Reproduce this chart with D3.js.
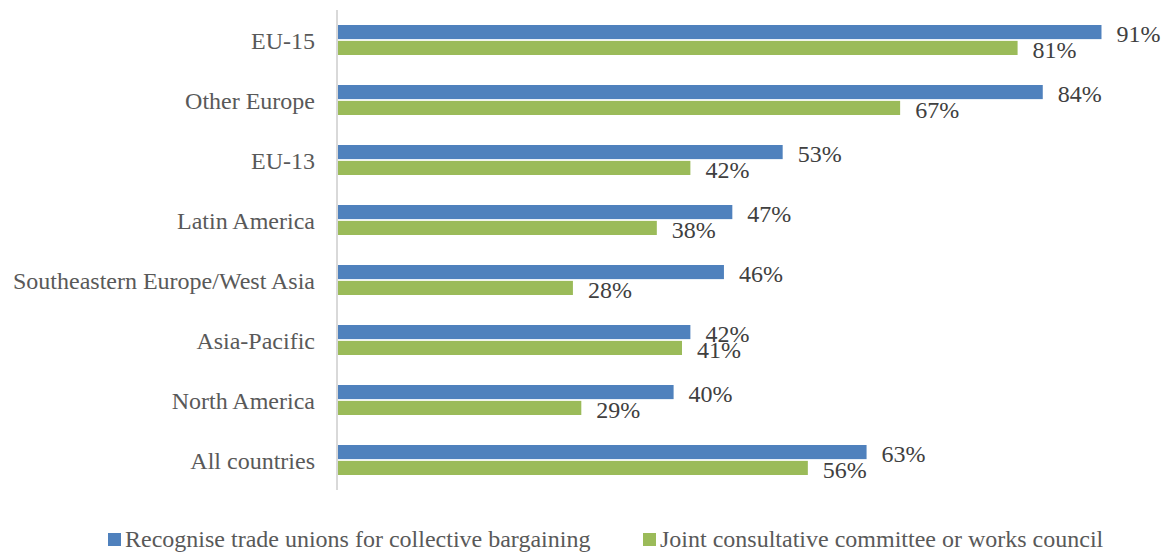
<!DOCTYPE html>
<html>
<head>
<meta charset="utf-8">
<script src="https://cdn.jsdelivr.net/npm/d3@7"></script>
<style>
  body { margin: 0; background: #fff; }
  svg text { font-family: "Liberation Serif", "Times New Roman", serif; font-size: 24px; }
</style>
</head>
<body>
<div id="chart"></div>
<script>
const categories = ["EU-15", "Other Europe", "EU-13", "Latin America",
  "Southeastern Europe/West Asia", "Asia-Pacific", "North America", "All countries"];
const seriesNames = ["Recognise trade unions for collective bargaining",
  "Joint consultative committee or works council"];
const unions = [91, 84, 53, 47, 46, 42, 40, 63];
const councils = [81, 67, 42, 38, 28, 41, 29, 56];
const colors = ["#4f81bd", "#9bbb59"];

const width = 1166, height = 552;
const margin = {top: 10, left: 338, bottom: 62};

const svg = d3.select("#chart").append("svg")
  .attr("width", width)
  .attr("height", height);

const rows = categories.map((c, i) => ({cat: c, vals: [unions[i], councils[i]]}));

const y0 = d3.scaleBand()
  .domain(categories)
  .range([margin.top, height - margin.bottom])
  .paddingInner(0.5)
  .paddingOuter(0.25);

const y1 = d3.scaleBand()
  .domain([0, 1])
  .range([0, y0.bandwidth()])
  .paddingInner(0.11);

const x = d3.scaleLinear()
  .domain([0, 100])
  .range([margin.left, margin.left + 839]);

// category labels
svg.append("g").selectAll("text")
  .data(categories)
  .join("text")
  .attr("x", margin.left - 23)
  .attr("y", d => y0(d) + y0.bandwidth() / 2 + 8.5)
  .attr("text-anchor", "end")
  .attr("fill", "#595959")
  .text(d => d);

const groups = svg.append("g").selectAll("g")
  .data(rows)
  .join("g")
  .attr("transform", d => `translate(0,${y0(d.cat)})`);

groups.selectAll("rect")
  .data(d => d.vals)
  .join("rect")
  .attr("x", x(0))
  .attr("y", (d, i) => y1(i))
  .attr("width", d => x(d) - x(0))
  .attr("height", y1.bandwidth())
  .attr("fill", (d, i) => colors[i]);

groups.selectAll("text")
  .data(d => d.vals)
  .join("text")
  .attr("x", d => x(d) + 15)
  .attr("y", (d, i) => y1(i) + y1.bandwidth() / 2 + 10)
  .attr("fill", "#404040")
  .text(d => d + "%");

// vertical axis line
svg.append("line")
  .attr("x1", margin.left - 1).attr("x2", margin.left - 1)
  .attr("y1", y0.range()[0]).attr("y2", y0.range()[1])
  .attr("stroke", "#d9d9d9")
  .attr("stroke-width", 2);

// legend
const legendX = [108, 643];
const legend = svg.append("g").selectAll("g")
  .data(seriesNames)
  .join("g")
  .attr("transform", (d, i) => `translate(${legendX[i]},533)`);

legend.append("rect")
  .attr("width", 13)
  .attr("height", 13)
  .attr("fill", (d, i) => colors[i]);

legend.append("text")
  .attr("x", 17)
  .attr("y", 14)
  .attr("fill", "#595959")
  .text(d => d);
</script>
</body>
</html>
